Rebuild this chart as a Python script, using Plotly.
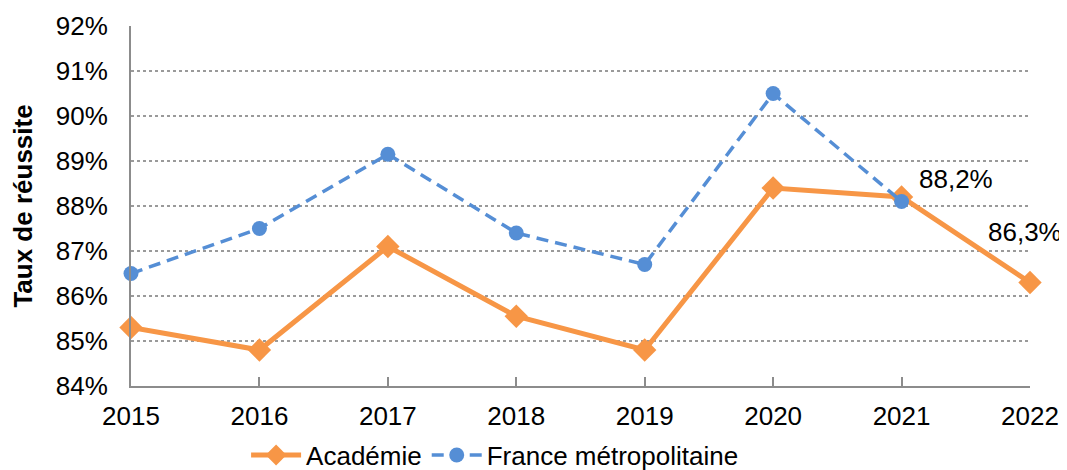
import plotly.graph_objects as go

years = [2015, 2016, 2017, 2018, 2019, 2020, 2021, 2022]
academie = [85.3, 84.8, 87.1, 85.55, 84.8, 88.4, 88.2, 86.3]
france = [86.5, 87.5, 89.15, 87.4, 86.7, 90.5, 88.1, None]
y_ticks = [84, 85, 86, 87, 88, 89, 90, 91, 92]
y_tick_labels = [f"{v}%" for v in y_ticks]
labelled_years = [2021, 2022]

ORANGE = "#F79646"
BLUE = "#558ED5"
FONT = "Liberation Sans, Arial, sans-serif"

fig = go.Figure()
fig.add_trace(go.Scatter(
    x=years, y=academie, name="Académie", mode="lines+markers",
    line=dict(color=ORANGE, width=5),
    marker=dict(symbol="diamond", size=18, color=ORANGE),
    cliponaxis=False,
))
fig.add_trace(go.Scatter(
    x=years, y=france, name="France métropolitaine", mode="lines+markers",
    line=dict(color=BLUE, width=3.5, dash="12px,7px"),
    marker=dict(symbol="circle", size=15, color=BLUE),
    cliponaxis=False,
))

shifts = {2021: (54, 18), 2022: (-5, 51)}
for yr in labelled_years:
    v = academie[years.index(yr)]
    dx, dy = shifts[yr]
    fig.add_annotation(
        x=yr, y=v, text=f"{v:.1f}%".replace(".", ","), showarrow=False,
        xshift=dx, yshift=dy, font=dict(size=26, color="#000", family=FONT),
    )

fig.update_layout(
    width=1059, height=462,
    margin=dict(l=123, r=37, t=18, b=84, autoexpand=False),
    paper_bgcolor="white", plot_bgcolor="white",
    font=dict(family=FONT, color="#000"),
    showlegend=True,
    legend=dict(
        orientation="h", x=0.405, xanchor="center",
        y=-0.192, yanchor="middle",
        font=dict(size=26, family=FONT), itemwidth=50, tracegroupgap=0,
    ),
    xaxis=dict(
        range=[2015, 2022], tickmode="array", tickvals=years,
        ticktext=[str(y) for y in years], showgrid=False,
        showline=True, linecolor="#8c8c8c", linewidth=2,
        ticks="inside", ticklen=9, tickcolor="#8c8c8c", tickwidth=2,
        tickfont=dict(size=26), zeroline=False, automargin=False,
        ticklabelstandoff=6,
    ),
    yaxis=dict(
        range=[84, 92], tickmode="array", tickvals=y_ticks,
        ticktext=y_tick_labels, showgrid=True, gridcolor="#9a9a9a",
        griddash="dot", gridwidth=1.5,
        showline=True, linecolor="#8c8c8c", linewidth=2,
        tickfont=dict(size=26), ticks="", zeroline=False, automargin=False,
        ticklabelstandoff=16,
        title=dict(text="<b>Taux de réussite</b>", font=dict(size=26), standoff=16),
    ),
)

fig.write_html("out.html")
